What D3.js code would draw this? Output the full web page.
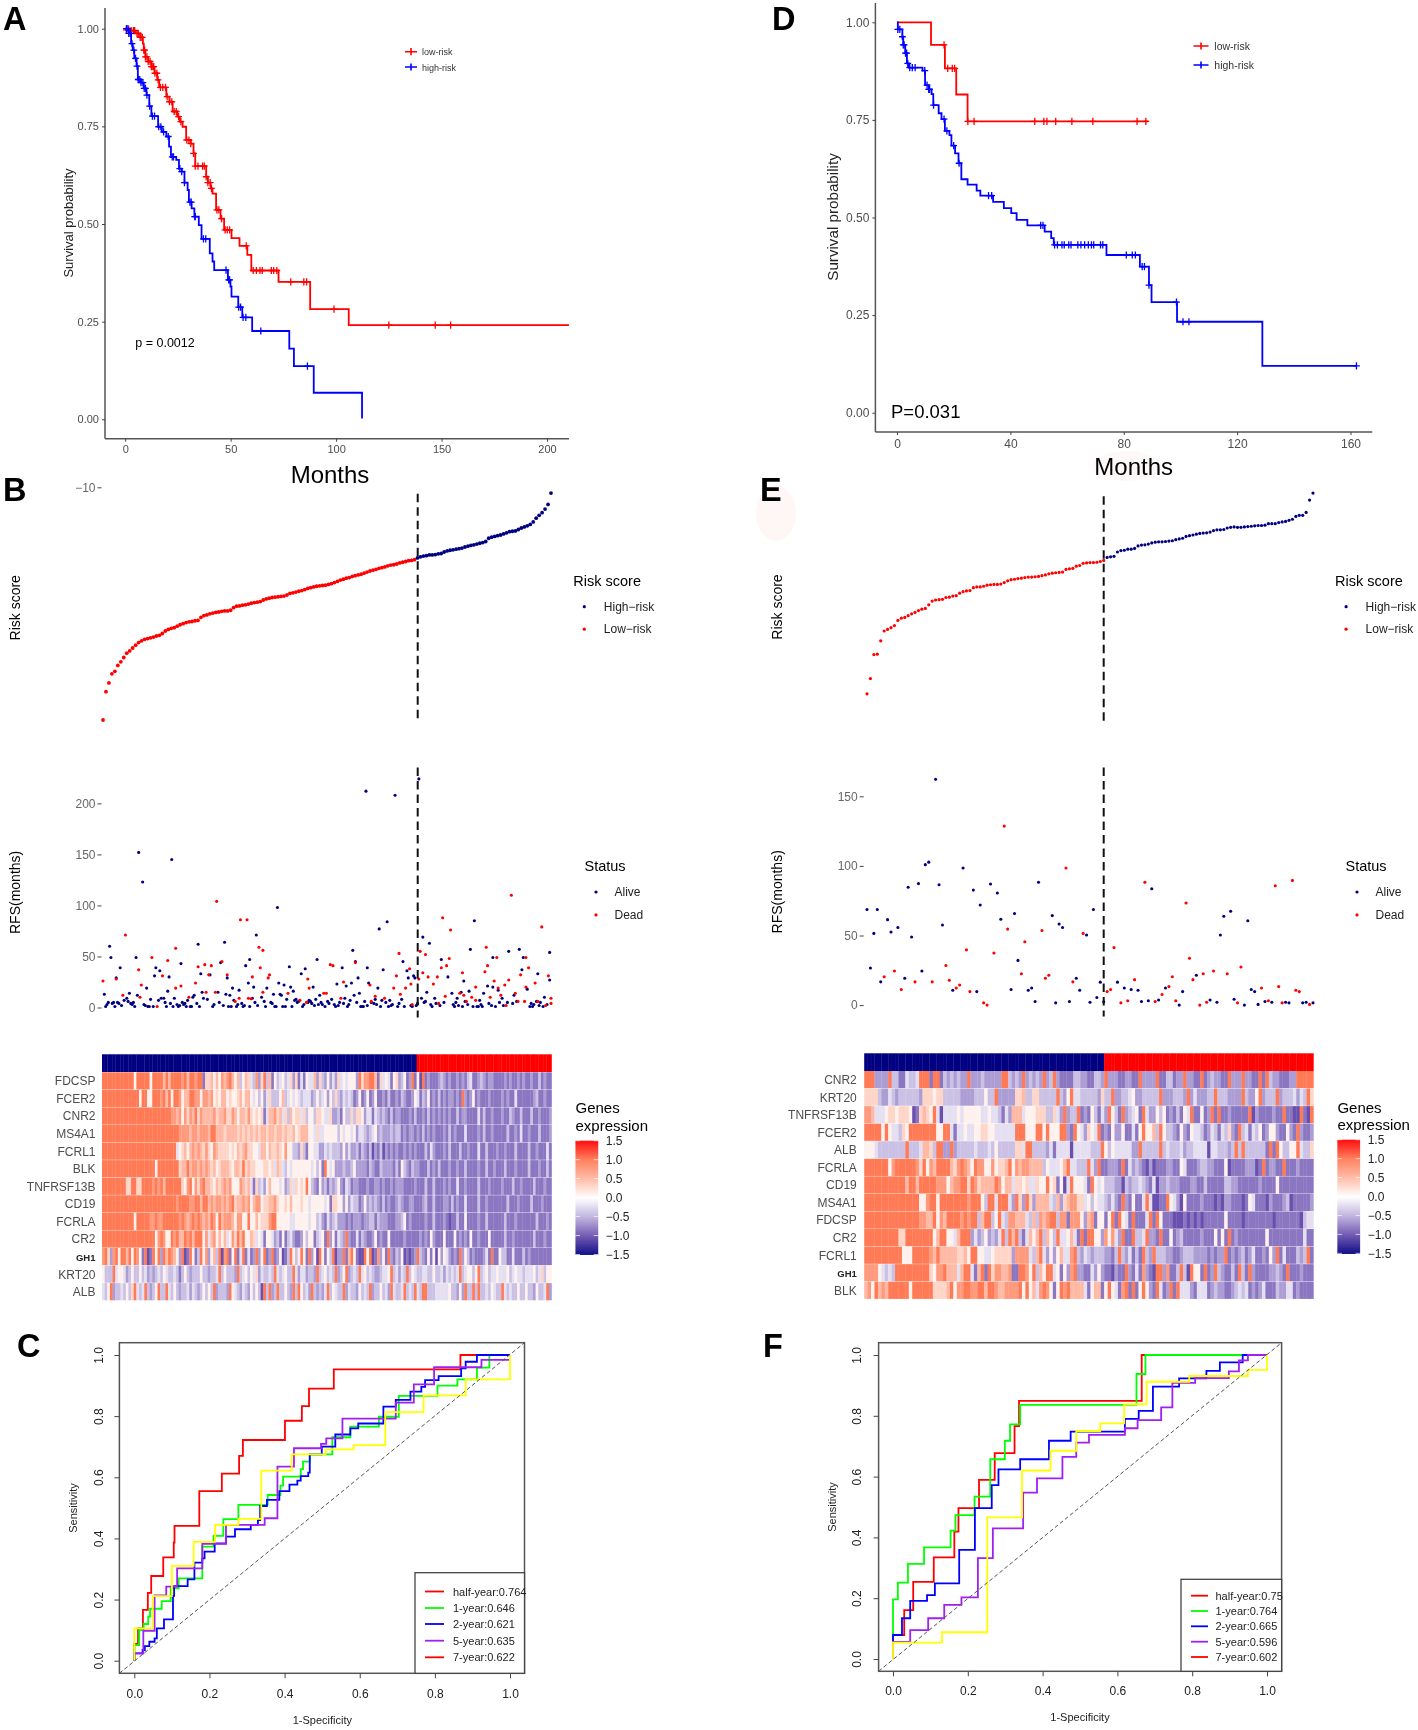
<!DOCTYPE html>
<html><head><meta charset="utf-8">
<script src="https://cdn.jsdelivr.net/npm/d3@7"></script>
<style>html,body{margin:0;padding:0;background:#fff}svg{display:block;font-family:"Liberation Sans",Arial,sans-serif;filter:blur(0.4px)}</style>
</head><body><svg id="c" width="1418" height="1730"></svg>
<script>
// ---------- Panel A: Kaplan-Meier ----------
const aLowT=[0,2.8,4.9,7.1,8.4,8.8,9.6,10.9,12.4,13.9,15.2,16.1,19.5,21,22.5,24.7,25.9,27.2,28.9,31.1,32.4,33.2,38.4,39.2,40.5,41.4,43.1,45.2,46.9,50.4,54.2,57.9,59.8,72.7,87.7,106,210.4];
const aLowS=[.997,.995,.988,.978,.962,.945,.928,.916,.903,.886,.869,.85,.826,.813,.788,.775,.762,.749,.715,.706,.681,.648,.621,.606,.591,.578,.536,.514,.485,.464,.444,.421,.381,.352,.282,.241,.241];
const aLowCens=[.6,1.7,2.8,3.9,4.5,5.6,6.2,7.1,7.5,8.1,8.8,9.2,9.6,10.3,10.9,11.8,12.4,13.1,13.5,14.1,15,15.6,16.7,17.8,19.1,19.9,21,22.1,23.2,24.2,25.3,26.4,29.2,30.2,31.1,32.4,33.2,34.5,36.7,37.5,38.4,39.2,40.3,40.9,43.5,44.4,45.7,47.4,48.4,49.5,57.4,60.7,62.2,63.9,65,69.3,70.4,71.9,78.5,84.7,86,99,125,147,154.3];
const aHighT=[0,1.7,2.8,3.6,4.3,5.4,6,7.5,8.8,10.1,11.4,12.4,15.6,17.4,19.5,20.8,21.7,24.2,25.5,26.8,28.1,29.6,30.2,31.5,32.8,34.9,36.2,40.1,41.4,42.2,48.7,49.9,50.4,53.6,55.5,60.2,77.8,80,89.4,112.3];
const aHighS=[1,.988,.962,.945,.924,.904,.87,.862,.847,.83,.802,.776,.749,.736,.724,.698,.672,.664,.642,.634,.606,.587,.556,.54,.519,.497,.462,.425,.404,.382,.357,.34,.314,.287,.261,.226,.181,.136,.068,.002];
const aHighCens=[.6,1.3,1.7,2.4,3.2,4.1,4.9,5.6,6.2,6.9,7.5,8.4,9,9.6,10.3,11.6,12.9,13.9,15.9,16.9,18.2,20.4,22.3,22.9,25.9,26.8,28.1,30.7,31.3,33,33.2,37.1,38.2,47.8,49.1,49.5,53.8,54.7,55.9,57.2,64.3,86.4];
// ---------- Panel D: Kaplan-Meier ----------
const dLowT=[0,12,16.9,20.9,24.9,88.6];
const dLowS=[1,.942,.882,.815,.746,.746];
const dLowCens=[16.6,17.9,19.5,20.3,25,27.2,48.6,51.8,52.9,56,61.7,69.1,84.7,87.8];
const dHighT=[0,.3,1.9,2.2,2.9,3.5,4.2,9,9.9,11.2,12.2,12.8,14.7,15.7,16.9,18.5,19.2,20.5,21.7,22.7,24.9,28.1,29.4,33.9,37.7,40.3,42.2,46,52.1,54.4,55.3,73.9,85.7,88.9,89.8,98.8,128.9,162.1];
const dHighS=[1,.982,.963,.942,.921,.895,.884,.876,.839,.828,.816,.788,.767,.752,.722,.711,.684,.664,.639,.598,.584,.569,.556,.54,.524,.511,.494,.48,.464,.447,.43,.404,.374,.327,.283,.233,.12,.12];
const dHighCens=[.3,1,1.9,2.2,2.5,3,3.4,3.8,4.5,5.4,6.4,9.8,10.6,11.2,11.5,12.9,16.6,17.6,20,21.9,32.3,33.4,50.7,51.5,55.6,56.6,58.2,59,60.6,61.4,63.8,64.9,66.2,67.5,68.6,69.4,71.8,72.6,80.9,83,84.1,86.5,87.3,88.9,98.6,100.9,103,162.1];
// ---------- Panels B, E: risk score by rank ----------
const riskB=[11.33,8.73,7.93,7.1,6.87,6.33,6,5.6,5.2,5,4.73,4.47,4.23,4.07,3.93,3.87,3.8,3.73,3.63,3.57,3.4,3.17,3.03,2.93,2.87,2.73,2.6,2.5,2.4,2.33,2.3,2.23,2.2,1.93,1.77,1.7,1.6,1.53,1.47,1.43,1.37,1.33,1.33,1.27,1.03,.9,.87,.8,.77,.7,.63,.57,.53,.47,.33,.23,.17,.1,.07,.03,0,-.03,-.13,-.27,-.33,-.4,-.47,-.53,-.63,-.73,-.8,-.87,-.93,-.97,-1,-1.03,-1.1,-1.17,-1.27,-1.37,-1.5,-1.57,-1.67,-1.73,-1.83,-1.9,-1.97,-2.03,-2.13,-2.23,-2.33,-2.4,-2.47,-2.57,-2.63,-2.7,-2.8,-2.87,-2.9,-2.97,-3.07,-3.13,-3.2,-3.27,-3.3,-3.37,-3.53,-3.63,-3.7,-3.73,-3.8,-3.8,-3.83,-3.9,-3.93,-4.07,-4.17,-4.23,-4.27,-4.33,-4.37,-4.43,-4.53,-4.6,-4.67,-4.73,-4.8,-4.87,-4.93,-5.03,-5.33,-5.43,-5.5,-5.57,-5.63,-5.73,-5.83,-5.93,-5.97,-6,-6.13,-6.27,-6.37,-6.47,-6.6,-6.83,-7.17,-7.43,-7.67,-8,-8.43,-9.47];
const riskE=[8.93,7.53,5.33,5.3,4.07,3.17,3.03,2.87,2.67,2.2,2,1.93,1.77,1.6,1.47,1.3,1.17,1.1,.77,.43,.33,.3,.27,.1,.07,-.03,-.07,-.3,-.43,-.5,-.53,-.8,-.87,-.87,-.93,-1.03,-1.07,-1.1,-1.1,-1.13,-1.27,-1.43,-1.53,-1.57,-1.63,-1.67,-1.73,-1.77,-1.77,-1.8,-1.83,-1.9,-1.97,-2.07,-2.13,-2.17,-2.2,-2.23,-2.47,-2.53,-2.57,-2.77,-2.83,-3.03,-3.07,-3.1,-3.1,-3.13,-3.2,-3.3,-3.57,-3.63,-3.67,-4.07,-4.2,-4.23,-4.33,-4.33,-4.4,-4.63,-4.7,-4.73,-4.8,-4.9,-4.97,-5,-5,-5.03,-5.07,-5.1,-5.2,-5.27,-5.33,-5.5,-5.57,-5.63,-5.7,-5.77,-5.8,-5.83,-5.9,-6.03,-6.1,-6.1,-6.13,-6.27,-6.33,-6.37,-6.33,-6.33,-6.37,-6.4,-6.43,-6.47,-6.5,-6.5,-6.53,-6.67,-6.67,-6.67,-6.77,-6.83,-6.87,-6.97,-7.07,-7.33,-7.43,-7.43,-7.7,-8.83,-9.47];
const cutB=106, cutE=70;
// ---------- Panel B: RFS by rank ----------
const rfsBDeadRank=[0,10,15,17,27,28,29,37,41,45,49,55,55,59,65,70,72,77,78,80,82,86,85,90,94,100,103,104,109,110,112,113,118,119,121,121,125,126,140,149,154,155,156,167,169,172,174,180,182,191,202,203,206,213,220,222,224,225,229,232,233,234,239,240,242,244,246,250,253,254,256,257,259,260,262,263,270,272,273,275,279,282,282,289,290,291,293,296,298,299,301,304,305,307,309,312,314,316,319,320,320,322,327,329,332,335,337,339,339];
const rfsBDeadVal=[26,28,12,71,37,10,22,49,1,31,46,58,19,21,10,24,40,42,15,32,41,104,15,45,32,6,9,86,86,9,8.6,30,59,39,56,15,29,32,14,7,5,28,19,14,14,42,41,9,25,44,22,6,11,9,19,31,53,13,19,38,23,3,28,55,34,52,30,23,30,4,39,88,11,41,48,76,14,34,12,6,10,20,7,35,59,41,10,26,49,19,12,22,2,27,110,14,6,32,6,49,20,39,24,6,79,2,31,9,4];
const rfsBAliveRank=[1,5,6,10,13,20,25,26,27,30,33,39,40,43,50,49,52,59,72,74,75,81,87,89,92,94,96,98,103,108,110,111,114,116,124,132,133,137,141,142,144,150,153,159,162,177,181,184,188,189,191,193,194,199,200,201,208,209,212,215,221,227,230,231,235,236,239,242,245,247,256,261,264,271,273,277,278,281,288,291,295,295,299,307,311,315,317,318,321,329,334,338,338];
const rfsBAliveVal=[13,60,49,29,39,14,49,12,152,123,19,31,39,36,30,16,145,43,62,33,15,32,15,44,64,29,12,19,17,41,24,47,20,71,19,98,24,22,40,20,16,33,38,20,47,23,39,21,24,56,45,29,14,212,39,24,19,77,37,84,208,45,36,29,31,29,224,69,15,63,47,30,14,15,26,16,57,85,14,21,49,20,17,55,12,57,37,49,18,33,10,54,27];
const rfsBBandRank=[2,3,4,7,8,9,11,12,14,16,18,19,21,22,23,24,31,32,34,35,36,38,42,44,46,47,48,51,53,54,56,57,58,60,61,62,63,64,66,67,68,69,71,73,76,79,83,84,88,91,93,95,97,99,101,102,105,106,107,111,113,115,117,120,122,123,127,128,129,130,131,134,135,136,138,139,143,145,146,147,148,151,152,155,156,157,158,160,161,163,164,165,166,168,170,171,173,175,176,178,179,182,183,185,186,187,190,192,195,196,197,198,200,203,205,206,207,210,211,214,216,217,218,219,223,224,226,228,233,234,237,238,241,243,244,248,249,251,252,255,258,265,266,267,268,269,272,274,276,280,283,284,285,286,287,292,294,297,300,302,303,306,310,313,323,324,325,326,328,330,331,333,336];
const rfsBBandVal=[1,3,5,4,5,1,5,4,2,7,9,6,4,3,5,1,3,2,1,1,8,1,7,9,9,5,1,4,1,9,3,1,2,5,3,4,1,7,1,1,10,12,4,1,9,8,1,3,5,2,13,1,1,7,1,3,4,1,2,1,9,5,2,10,6,1,5,4,13,1,1,13,12,1,1,8,1,7,8,5,6,1,3,5,7,6,4,2,8,3,12,5,3,1,6,4,8,3,1,2,5,4,9,1,3,7,12,5,1,1,1,6,2,5,4,8,3,1,7,5,1,7,2,3,1,4,8,1,2,1,2,4,9,5,6,3,1,9,4,2,5,3,1,5,9,2,1,6,3,1,1,1,7,3,1,4,2,1,5,9,2,5,4,6,1,4,1,3,6,2,5,1,3,6,1,4,2,5,3,1,6];
// ---------- Panel E: RFS by rank ----------
const rfsE=[68.7,26.7,51.5,68.7,16.7,20.4,61.4,52.5,24.5,55.7,11.2,19.3,84.7,48.9,16.7,87.3,24.5,100.9,102.7,16.7,162.3,86.5,57.5,28.5,17.8,10.7,12.3,14.4,98.5,39.7,9.7,82.6,9.7,71.9,1.6,0,87,37.4,80.5,61.7,128.6,54.6,11.2,65.8,32.1,22.5,45.5,10.7,12.3,2.6,88.3,53.6,19.3,21.4,64.3,1.6,58.3,55.7,98.5,2.6,16.7,19.3,10.7,51.5,50.4,2.1,68.7,5.5,16.5,2.4,9.7,11.2,41.3,16.5,1.6,12.3,3.1,11.2,18.3,10.7,2.6,88.3,3.1,83.6,2.6,3.7,7.6,12.3,13.3,20.4,3.1,0,9.7,73.4,33.7,18.3,21.4,0,22.5,2.1,3.7,24.5,2.1,50.4,63.8,22.5,67.4,4.2,1.6,27.4,0,60.6,11.2,9.7,.5,12.3,2.6,3.1,2.1,85.7,13.3,1.6,2.1,1.6,89.6,10.7,9.7,1.6,2.1,.5,1.6];
const statusE="AAAAA D AA D A D AAA D AAAA D AAA DD A DD A DD AAA DD A D AA DD AAA DD AAAA DDD AAAA D A D AA D AAAAAA DDD A D A D A D AA D AA D A D A DDD AA DDD A DDD A D AAA D AA DD AAAAA D A D A DDD AA DDD AA D A".replace(/ /g,"");
// ---------- Heatmaps ----------
const genesB=["FDCSP","FCER2","CNR2","MS4A1","FCRL1","BLK","TNFRSF13B","CD19","FCRLA","CR2","GH1","KRT20","ALB"];
const genesE=["CNR2","KRT20","TNFRSF13B","FCER2","ALB","FCRLA","CD19","MS4A1","FDCSP","CR2","FCRL1","GH1","BLK"];
const heatLevels=[-1,-.8,-.6,-.4,-.2,.1,.3,.5,.75,1];
const heatB=[
"9999999999 9959999959 9997979999 8979989916 6757587897 5735764382 6937153453 4626141544 7263252426 4545552968 8997164541 5623512915 0912111232 1211212134 1123212211 1121211212 1121131211",
"9999999999 9999599559 9989795998 5779988588 7856577565 5675775453 5246333573 4545434442 3534525363 2434312512 5125112131 1213211254 1325121312 1221219212 5121112111 1212114111 1112311211",
"9999999999 9999999999 9999998878 5868796877 7786778668 7577686565 6147786746 3756646355 3665446223 1533636652 4414323213 1221112131 1213121212 1211312211 1141311211 1211321131 1131121112",
"9999999999 9999999999 9999999998 8887887888 7997776777 7676767676 7767767767 6675677755 4644555553 5455452443 2345232223 2331212212 1312121112 1312111411 1121311211 1113112141 1211131112",
"9999999999 9999999999 9999999945 6757878768 6587666656 5767866554 7757667658 5533263155 4422434333 2524223132 1302130212 1211212121 1131421112 1311131121 1141131112 1121113111 1311211141",
"9999999999 9999999999 5999999996 7797887878 7675677765 7769676655 5665647643 5455555554 5351954522 2322352222 1321132222 1315321322 1113121311 1211211311 1121131121 1131112111 1311121131",
"9999999996 6996699998 9897999999 6589586897 7657678785 5587674163 4257555452 3646565953 2152313235 2143122111 2112212112 1222111121 1131131112 1211411211 1131112111 1211131121 1113111211",
"9999999999 9999999999 9999999989 9998899799 7878878789 6778785788 5667786556 5755565545 5555451665 5252433125 2323213121 1232112211 1231131112 2131211411 1131121111 1113111211 1131112111",
"9999999999 9959999988 9889999998 9878989878 7985978887 5885595575 6668995555 5445555545 5342142342 2212122212 2331322211 1223512111 1121131112 1011311511 1121131111 1131112111 1111311121",
"9999999999 9999999999 5898559897 7989799958 4785757458 6979557645 4155423151 3421125355 1345192514 3292114132 1125121151 1111211111 2121521115 1115121215 1121115111 1131121111 1113111211",
"8962895997 9598519019 5929798752 9019513958 2573908915 9149141292 5912912501 3953595192 5095153902 2917951009 5901825192 1325010129 3215150525 4212192531 2111241911 5331141113 1211111111",
"5333945542 3533534232 3435433431 3532333533 2334935333 2934535462 4334394345 3394244233 2934534392 3592343945 3432234459 3424393543 3443353342 4343493455 3593453445 4445345443 4445346355",
"4359233435 3694349323 5933943532 3342432353 5392333295 4324325353 0939239335 3293953429 3232493543 3924332534 3923353429 4334934394 3993334444 4533252933 9393343543 3943433533 5332533492"];
const heatE=[
"9992222933 1143349991 9913232322 9222322222 9932329232 3292392111 1332211332 9222112211 9222291133 1229221191 2322119222 9221191932 2111229999 9",
"6666322432 3333332666 5663333322 2233353392 2222667336 6333339325 9443333326 3392233452 2333339222 3332924222 3393332222 9322592333 9233342439 6",
"8874445665 6665016765 9404444545 5555445443 1427774555 6663364292 3391215314 2953192345 1942253512 1315491151 2919112111 1190211112 1191100910 9",
"9999959544 3659999999 9559941445 4455665544 4444999555 9959555992 1954265491 2152251141 5955739533 2152154431 2431436219 3414351255 2115219211 2",
"5554333333 3393334776 3992292333 3343334353 3333664993 3332414444 0444443339 5354444422 9333339343 3342334444 0443332393 9333333191 9533559433 6",
"9999999589 9999986958 7999976898 7598855856 6795878877 7735444579 4433394291 1222191423 2102011122 1154111233 2211150111 1222019122 1191112111 1",
"9999999999 9979979999 9888578899 6986777798 5774665644 6559561504 9555419545 3332203233 4321402232 2211122113 1111133221 1111121111 5111111111 1",
"9999999999 9999995589 9599999999 8999539949 9942962962 7777437267 8866453544 3242192151 1494001195 4205111121 1101022111 0154111021 1123011111 2",
"9999999999 9999998877 9587999989 8993799359 4388777437 3878993881 8885278155 1591954191 1149195111 0001010101 1111151111 0111111110 1111111034 4",
"9999999999 6699999999 5799554799 9242352324 9397931475 7937539445 7419199552 8584291193 3492219115 1231111121 1151519121 1111111511 1111111141 1",
"9999999999 9555999998 7977777667 5995544566 6662888843 7942525744 8932432333 2213932413 1932933322 1123332222 1212291212 3124112152 9141113239 1",
"8888543439 9999999996 5889777479 9417919688 7781199859 3759945152 8922114252 1102119214 1821099281 1393095519 1293211319 3192111122 3219111211 1",
"7859787999 9995999999 6666795889 9889979987 7888895957 4898515989 7777415771 5954189191 5952194129 1944421444 1232211234 3412124111 3224412111 1"];
const colorTicks=[1.5,1,.5,0,-.5,-1,-1.5];
const colorStops=["#000080","#6a50ae","#bdb1dd","#ffffff","#ffb9a4","#ff7a55","#ff0000"];
// ---------- ROC curves ----------
const cRedX=[0,.01,.023,.036,.045,.077,.105,.107,.173,.233,.279,.289,.401,.446,.465,.531,.868,1];
const cRedY=[.055,.106,.166,.222,.277,.338,.386,.441,.555,.612,.67,.722,.785,.833,.89,.953,1,1];
const cGreenX=[0,.013,.025,.037,.042,.073,.097,.118,.181,.211,.237,.277,.355,.389,.396,.443,.449,.467,.527,.575,.651,.704,.807,.86,.912,.945,1];
const cGreenY=[.051,.1,.12,.144,.17,.195,.237,.269,.373,.408,.463,.51,.542,.573,.602,.627,.651,.675,.731,.766,.798,.866,.9,.92,.959,1,1];
const cBlueX=[0,.022,.028,.04,.054,.06,.079,.103,.106,.142,.16,.181,.187,.214,.244,.268,.31,.329,.335,.353,.386,.413,.434,.443,.463,.467,.499,.535,.575,.596,.663,.696,.735,.764,.774,.81,.87,.882,.912,1];
const cBlueY=[.024,.035,.048,.062,.073,.106,.135,.212,.244,.266,.321,.335,.357,.384,.406,.43,.444,.46,.506,.526,.555,.576,.589,.604,.615,.675,.7,.74,.76,.776,.831,.853,.88,.896,.918,.931,.956,.978,1,1];
const cPurpleX=[0,.024,.054,.085,.114,.181,.244,.347,.381,.425,.497,.511,.554,.599,.696,.744,.798,.924,1];
const cPurpleY=[.024,.098,.214,.242,.302,.382,.444,.466,.635,.695,.709,.727,.792,.792,.844,.904,.96,.984,.984];
const cYellowX=[0,.049,.1,.158,.215,.277,.338,.419,.509,.584,.668,.77,.882,1,1];
const cYellowY=[.106,.211,.31,.389,.444,.464,.622,.675,.691,.705,.813,.868,.92,.92,1];
const fRedX=[0,.03,.054,.109,.164,.175,.23,.272,.325,.337,.665,1];
const fRedY=[.079,.161,.254,.334,.419,.496,.589,.677,.766,.849,1,1];
const fGreenX=[0,.013,.04,.083,.154,.167,.218,.26,.299,.313,.34,.651,.675,1];
const fGreenY=[.196,.251,.313,.367,.422,.473,.534,.657,.718,.772,.836,.9375,1,1];
const fBlueX=[0,.024,.046,.091,.112,.177,.219,.264,.282,.34,.417,.475,.62,.657,.695,.765,.838,.874,.935,1];
const fBlueY=[.079,.134,.191,.21,.249,.359,.496,.572,.624,.657,.718,.748,.79,.816,.896,.923,.948,.976,1,1];
const fPurpleX=[0,.046,.094,.137,.183,.227,.267,.348,.385,.453,.49,.524,.62,.654,.717,.747,.808,.898,.925,.949,1];
const fPurpleY=[.056,.095,.134,.178,.203,.332,.43,.547,.594,.665,.712,.737,.759,.786,.828,.908,.924,.946,.982,1,1];
const fYellowX=[0,.131,.252,.345,.421,.49,.554,.618,.678,.792,.949,1,1];
const fYellowY=[.054,.088,.466,.62,.685,.75,.775,.838,.912,.931,.951,.951,1];
const rocColors=["#ff0000","#00ff00","#0000ff","#a020f0","#ffff00"];
const rocKeyColors=["#ff0000","#00ff00","#0000ff","#a020f0","#ff0000"];
const cLabels=["half-year:0.764","1-year:0.646","2-year:0.621","5-year:0.635","7-year:0.622"];
const fLabels=["half-year:0.75","1-year:0.764","2-year:0.665","5-year:0.596","7-year:0.602"];

const svg=d3.select("#c");
svg.append("rect").attr("width",1418).attr("height",1730).attr("fill","#fff");
// faint stains present in the source figure
svg.append("ellipse").attr("cx",776).attr("cy",513).attr("rx",20).attr("ry",28).attr("fill","#fef7f6");
svg.append("ellipse").attr("cx",1127).attr("cy",466).attr("rx",35).attr("ry",15).attr("fill","#fef9f9");

function text(x,y,s,o={}){
  const t=svg.append("text").attr("x",x).attr("y",y).text(s)
    .attr("font-size",o.size||12).attr("fill",o.fill||"#000")
    .attr("text-anchor",o.anchor||"start").attr("font-weight",o.weight||"normal");
  if(o.rot!==undefined) t.attr("transform",`rotate(${o.rot} ${x} ${y})`);
  return t;
}
function line(x1,y1,x2,y2,col,w,dash){
  const l=svg.append("line").attr("x1",x1).attr("y1",y1).attr("x2",x2).attr("y2",y2).attr("stroke",col).attr("stroke-width",w);
  if(dash) l.attr("stroke-dasharray",dash);
  return l;
}
[["A",3,29.5],["B",3,501],["C",17,1357],["D",772,29.5],["E",760,501],["F",763,1357]].forEach(d=>text(d[1],d[2],d[0],{size:32.5,weight:"bold"}));

function styleAxis(g,col,size){
  g.select(".domain").remove();
  g.selectAll("line").attr("stroke","#444").attr("stroke-width",1);
  g.selectAll("text").attr("fill",col).attr("font-size",size).attr("font-family","inherit");
}
const fmtMinus=d3.format(".2f");
function km(o){
  const x=d3.scaleLinear().domain(o.xd).range(o.xr);
  const y=d3.scaleLinear().domain([0,1]).range(o.yr);
  line(o.left,o.top,o.left,o.bottom,"#555",1.5);
  line(o.left,o.bottom,o.right,o.bottom,"#555",1.5);
  const ax=svg.append("g").attr("transform",`translate(${o.left},0)`).call(d3.axisLeft(y).tickValues([0,.25,.5,.75,1]).tickFormat(fmtMinus).tickSize(3).tickPadding(3));
  styleAxis(ax,"#4d4d4d",o.tick);
  const bx=svg.append("g").attr("transform",`translate(0,${o.bottom})`).call(d3.axisBottom(x).tickValues(o.xt).tickSize(3).tickPadding(4));
  styleAxis(bx,"#4d4d4d",o.tick);
  const step=d3.line().curve(d3.curveStepAfter).x(d=>x(d[0])).y(d=>y(d[1]));
  [[o.lowT,o.lowS,o.lowC,"#ff0000"],[o.highT,o.highS,o.highC,"#0000ff"]].forEach(s=>{
    const pts=s[0].map((t,i)=>[t,s[1][i]]);
    svg.append("path").attr("d",step(pts)).attr("fill","none").attr("stroke",s[3]).attr("stroke-width",1.8);
    svg.append("g").selectAll("path").data(s[2]).join("path")
      .attr("transform",t=>{const i=Math.max(0,d3.bisectRight(s[0],t)-1);return `translate(${x(t)},${y(s[1][i])})`;})
      .attr("d","M-3.4,0H3.4M0,-3.6V3.6").attr("stroke",s[3]).attr("stroke-width",1.3).attr("fill","none");
  });
  o.legend.forEach(l=>{
    svg.append("path").attr("transform",`translate(${l.x},${l.y})`).attr("d",`M${-l.w},0H${l.w}M0,-3.6V3.6`).attr("stroke",l.c).attr("stroke-width",1.6).attr("fill","none");
    text(l.tx,l.y+3.5,l.s,{size:l.size,fill:"#333"});
  });
}
km({xd:[0,200],xr:[125.2,547],yr:[419.3,28.7],left:105,right:569,top:8,bottom:438.7,xt:[0,50,100,150,200],tick:11,
  lowT:aLowT,lowS:aLowS,lowC:aLowCens,highT:aHighT,highS:aHighS,highC:aHighCens,
  legend:[{x:411,y:51.7,w:6,c:"#ff0000",tx:422,s:"low-risk",size:9},{x:411,y:67,w:6,c:"#0000ff",tx:422,s:"high-risk",size:9}]});
km({xd:[0,160],xr:[897,1350.5],yr:[412.7,22.3],left:875.4,right:1372.3,top:3,bottom:432,xt:[0,40,80,120,160],tick:12,
  lowT:dLowT,lowS:dLowS,lowC:dLowCens,highT:dHighT,highS:dHighS,highC:dHighCens,
  legend:[{x:1201,y:46,w:7.5,c:"#ff0000",tx:1214.3,s:"low-risk",size:10.5},{x:1201,y:65,w:7.5,c:"#0000ff",tx:1214.3,s:"high-risk",size:10.5}]});
text(135.3,347,"p = 0.0012",{size:12.5});
text(891,418,"P=0.031",{size:18.5});
text(330,483,"Months",{size:24,anchor:"middle"});
text(1133.7,475,"Months",{size:24,anchor:"middle"});
text(72.6,223,"Survival probability",{size:13,anchor:"middle",rot:-90,fill:"#222"});
text(838.3,217,"Survival probability",{size:15.2,anchor:"middle",rot:-90,fill:"#222"});

// risk + RFS panels
function riskPanel(o){
  const xR=d3.scaleLinear().domain([0,o.risk.length-1]).range(o.xr);
  const yR=d3.scaleLinear().domain([-10,10]).range([o.y10,o.y10+218.2]);
  svg.append("g").selectAll("circle").data(o.risk).join("circle")
    .attr("cx",(d,i)=>xR(i)).attr("cy",d=>yR(d)).attr("r",o.riskR)
    .attr("fill",(d,i)=>i<o.cut?"#ff0000":"#000080");
  const xS=d3.scaleLinear().domain([0,o.scatterN-1]).range(o.xr);
  const yS=d3.scaleLinear().domain([0,o.tickVals[o.tickVals.length-1]]).range(o.rfsR);
  svg.append("g").selectAll("circle").data(o.dots).join("circle")
    .attr("cx",d=>xS(d[0])).attr("cy",d=>yS(d[1])).attr("r",1.55).attr("fill",d=>d[2]?"#ff0000":"#000080");
  const ax=svg.append("g").attr("transform",`translate(${o.axisX},0)`).call(d3.axisLeft(yS).tickValues(o.tickVals).tickSize(4).tickPadding(2));
  styleAxis(ax,"#666",12);
  if(o.tick10){
    const ar=svg.append("g").attr("transform",`translate(${o.axisX},0)`).call(d3.axisLeft(yR).tickValues([-10]).tickFormat(()=>"\u221210").tickSize(4).tickPadding(2));
    styleAxis(ar,"#666",12);
  }
  line(o.cutX,o.dashR[0],o.cutX,o.dashR[1],"#111",2,"8.5,5");
  line(o.cutX,o.dashS[0],o.cutX,o.dashS[1],"#111",2,"8.5,5");
  text(o.titleX,o.titleY1,"Risk score",{size:14,anchor:"middle",rot:-90});
  text(o.titleX,o.titleY2,"RFS(months)",{size:14,anchor:"middle",rot:-90});
  const L=o.leg;
  text(L.rx,585.5,"Risk score",{size:14.5});
  svg.append("circle").attr("cx",L.rx+11).attr("cy",606.7).attr("r",1.6).attr("fill","#000080");
  svg.append("circle").attr("cx",L.rx+11).attr("cy",629.2).attr("r",1.6).attr("fill","#ff0000");
  text(L.rx+30.5,610.9,"High\u2212risk",{size:12,fill:"#222"});
  text(L.rx+30.5,633.4,"Low\u2212risk",{size:12,fill:"#222"});
  text(L.sx,871,"Status",{size:14.5});
  svg.append("circle").attr("cx",L.sx+11.5).attr("cy",892).attr("r",1.6).attr("fill","#000080");
  svg.append("circle").attr("cx",L.sx+11.5).attr("cy",914.9).attr("r",1.6).attr("fill","#ff0000");
  text(L.sx+30,896.2,"Alive",{size:12,fill:"#222"});
  text(L.sx+30,919.1,"Dead",{size:12,fill:"#222"});
}
const dotsB=[...rfsBAliveRank.map((r,i)=>[r,rfsBAliveVal[i],0]),...rfsBBandRank.map((r,i)=>[r,rfsBBandVal[i],0]),...rfsBDeadRank.map((r,i)=>[r,rfsBDeadVal[i],1])].filter(d=>d[1]!==undefined);
const dotsE=rfsE.map((v,i)=>[i,v,statusE[i]==="D"?1:0]);
riskPanel({risk:riskB,riskR:1.9,cut:cutB,xr:[103,551],y10:487.3,dots:dotsB,scatterN:340,tickVals:[0,50,100,150,200],rfsR:[1007.5,803.4],axisX:101.5,tick10:true,cutX:417.7,dashR:[493.7,719.3],dashS:[767.6,1017.4],titleX:19.8,titleY1:607.8,titleY2:892.4,leg:{rx:573.3,sx:584.5}});
riskPanel({risk:riskE,riskR:1.6,cut:cutE,xr:[867,1313],y10:487.3,dots:dotsE,scatterN:131,tickVals:[0,50,100,150],rfsR:[1005.1,796.3],axisX:863.7,tick10:false,cutX:1103.7,dashR:[496.3,720.8],dashS:[767.6,1016.4],titleX:782,titleY1:607,titleY2:891.8,leg:{rx:1335.1,sx:1345.5}});

// heatmaps
const heatCol=d3.scaleLinear().domain(colorTicks.slice().reverse()).range(colorStops).clamp(true);
function heat(o){
  const rows=o.rows.map(s=>s.replace(/ /g,""));
  const n=d3.max(rows,r=>r.length);
  const x=d3.scaleBand().domain(d3.range(n)).range(o.xr);
  const y=d3.scaleBand().domain(o.genes).range(o.yr);
  svg.append("g").selectAll("rect").data(d3.range(n)).join("rect")
    .attr("x",i=>x(i)).attr("y",o.annY[0]).attr("width",x.bandwidth()+.3).attr("height",o.annY[1]-o.annY[0])
    .attr("fill",i=>i<o.cut?"#000080":"#ff0000");
  o.genes.forEach((g,r)=>{
    svg.append("g").selectAll("rect").data(rows[r].split("")).join("rect")
      .attr("x",(d,i)=>x(i)).attr("y",y(g)).attr("width",x.bandwidth()+.3).attr("height",y.bandwidth()-.4)
      .attr("fill",d=>heatCol(heatLevels[+d]));
    const isG=g==="GH1";
    text(o.labelX,y(g)+y.bandwidth()/2+4.2-(isG?.4:0),g,{size:isG?9.5:12,anchor:"end",fill:isG?"#222":"#4d4d4d",weight:isG?"bold":"normal"});
  });
  // colourbar
  const L=o.leg;
  const yc=d3.scaleLinear().domain([1.5,-1.5]).range(L.yr);
  const grad=d3.range(0,L.yr[1]-L.yr[0]);
  svg.append("g").selectAll("rect").data(grad).join("rect")
    .attr("x",L.x).attr("y",d=>L.yr[0]+d).attr("width",22.7).attr("height",1.2)
    .attr("fill",d=>heatCol(yc.invert(L.yr[0]+d)));
  colorTicks.forEach(t=>{
    text(L.x+30.3,yc(t)+4.3,d3.format(".1f")(t).replace("-","\u2212"),{size:12,fill:"#222"});
    line(L.x,yc(t),L.x+4.5,yc(t),"#fff",.7);
    line(L.x+18.2,yc(t),L.x+22.7,yc(t),"#fff",.7);
  });
  text(L.x,L.t1,"Genes",{size:15});
  text(L.x,L.t1+17.7,"expression",{size:15});
}
heat({rows:heatB,genes:genesB,xr:[102,551.5],yr:[1072.3,1300.7],annY:[1054.3,1072],cut:119,labelX:95.5,leg:{x:575.5,yr:[1140.7,1254.5],t1:1113}});
heat({rows:heatE,genes:genesE,xr:[864.2,1313.4],yr:[1071,1299.3],annY:[1053.3,1071],cut:70,labelX:856.8,leg:{x:1337.4,yr:[1139.7,1253.3],t1:1112.7}});

// ROC
function roc(o){
  const x=d3.scaleLinear().domain([0,1]).range(o.xr);
  const y=d3.scaleLinear().domain([0,1]).range(o.yr);
  const ticks=[0,.2,.4,.6,.8,1], f=d3.format(".1f");
  const ln=d3.line().curve(d3.curveStepAfter).x(d=>x(d[0])).y(d=>y(d[1]));
  o.curves.forEach((c,i)=>{
    const pts=[[0,0],...c[0].map((v,k)=>[v,c[1][k]])];
    svg.append("path").attr("d",ln(pts)).attr("fill","none").attr("stroke",rocColors[i]).attr("stroke-width",1.8);
  });
  const b=o.box;
  line(b.l,b.b,b.r,b.t,"#555",1,"4,2.5");
  svg.append("rect").attr("x",b.l).attr("y",b.t).attr("width",b.r-b.l).attr("height",b.b-b.t).attr("fill","none").attr("stroke","#555").attr("stroke-width",1.5);
  const bx=svg.append("g").attr("transform",`translate(0,${b.b})`).call(d3.axisBottom(x).tickValues(ticks).tickFormat(f).tickSize(5).tickPadding(o.pad));
  styleAxis(bx,"#222",12);
  const ly=svg.append("g").attr("transform",`translate(${b.l},0)`).call(d3.axisLeft(y).tickValues(ticks).tickFormat(f).tickSize(5).tickPadding(7));
  styleAxis(ly,"#222",12);
  ly.selectAll("text").attr("transform","rotate(-90)").attr("text-anchor","middle").attr("x",null).attr("dy",null)
    .attr("y",-(b.l-o.ylabX)).attr("dominant-baseline","middle");
  text(o.xt[0],o.xt[1]+4,"1-Specificity",{size:11,anchor:"middle",fill:"#222"});
  text(o.yt[0]+4,o.yt[1],"Sensitivity",{size:11,anchor:"middle",rot:-90,fill:"#222"});
  const L=o.leg;
  svg.append("rect").attr("x",L.l).attr("y",L.t).attr("width",b.r-L.l).attr("height",b.b-L.t).attr("fill","#fff").attr("stroke","#444").attr("stroke-width",1.3);
  L.labels.forEach((s,i)=>{
    line(L.k[0],L.ys[i],L.k[1],L.ys[i],rocKeyColors[i],1.8);
    text(L.tx,L.ys[i]+4,s,{size:11,fill:"#222"});
  });
}
roc({xr:[134.3,510],yr:[1660.7,1355],box:{l:119.4,r:524.5,t:1342.7,b:1673.3},pad:11,ylabX:99.5,xt:[322.3,1720],yt:[73.2,1508],
  curves:[[cRedX,cRedY],[cGreenX,cGreenY],[cBlueX,cBlueY],[cPurpleX,cPurpleY],[cYellowX,cYellowY]],
  leg:{l:415,t:1572.7,k:[425,444],tx:453,ys:[1591.5,1608,1624,1640.7,1657.3],labels:cLabels}});
roc({xr:[893,1267],yr:[1659,1355],box:{l:878.6,r:1281.6,t:1342.7,b:1671.3},pad:10,ylabX:858,xt:[1080,1717],yt:[832,1507],
  curves:[[fRedX,fRedY],[fGreenX,fGreenY],[fBlueX,fBlueY],[fPurpleX,fPurpleY],[fYellowX,fYellowY]],
  leg:{l:1181,t:1579.3,k:[1191,1208],tx:1215.5,ys:[1595.7,1611,1626.3,1641.7,1657],labels:fLabels}});
</script></body></html>
